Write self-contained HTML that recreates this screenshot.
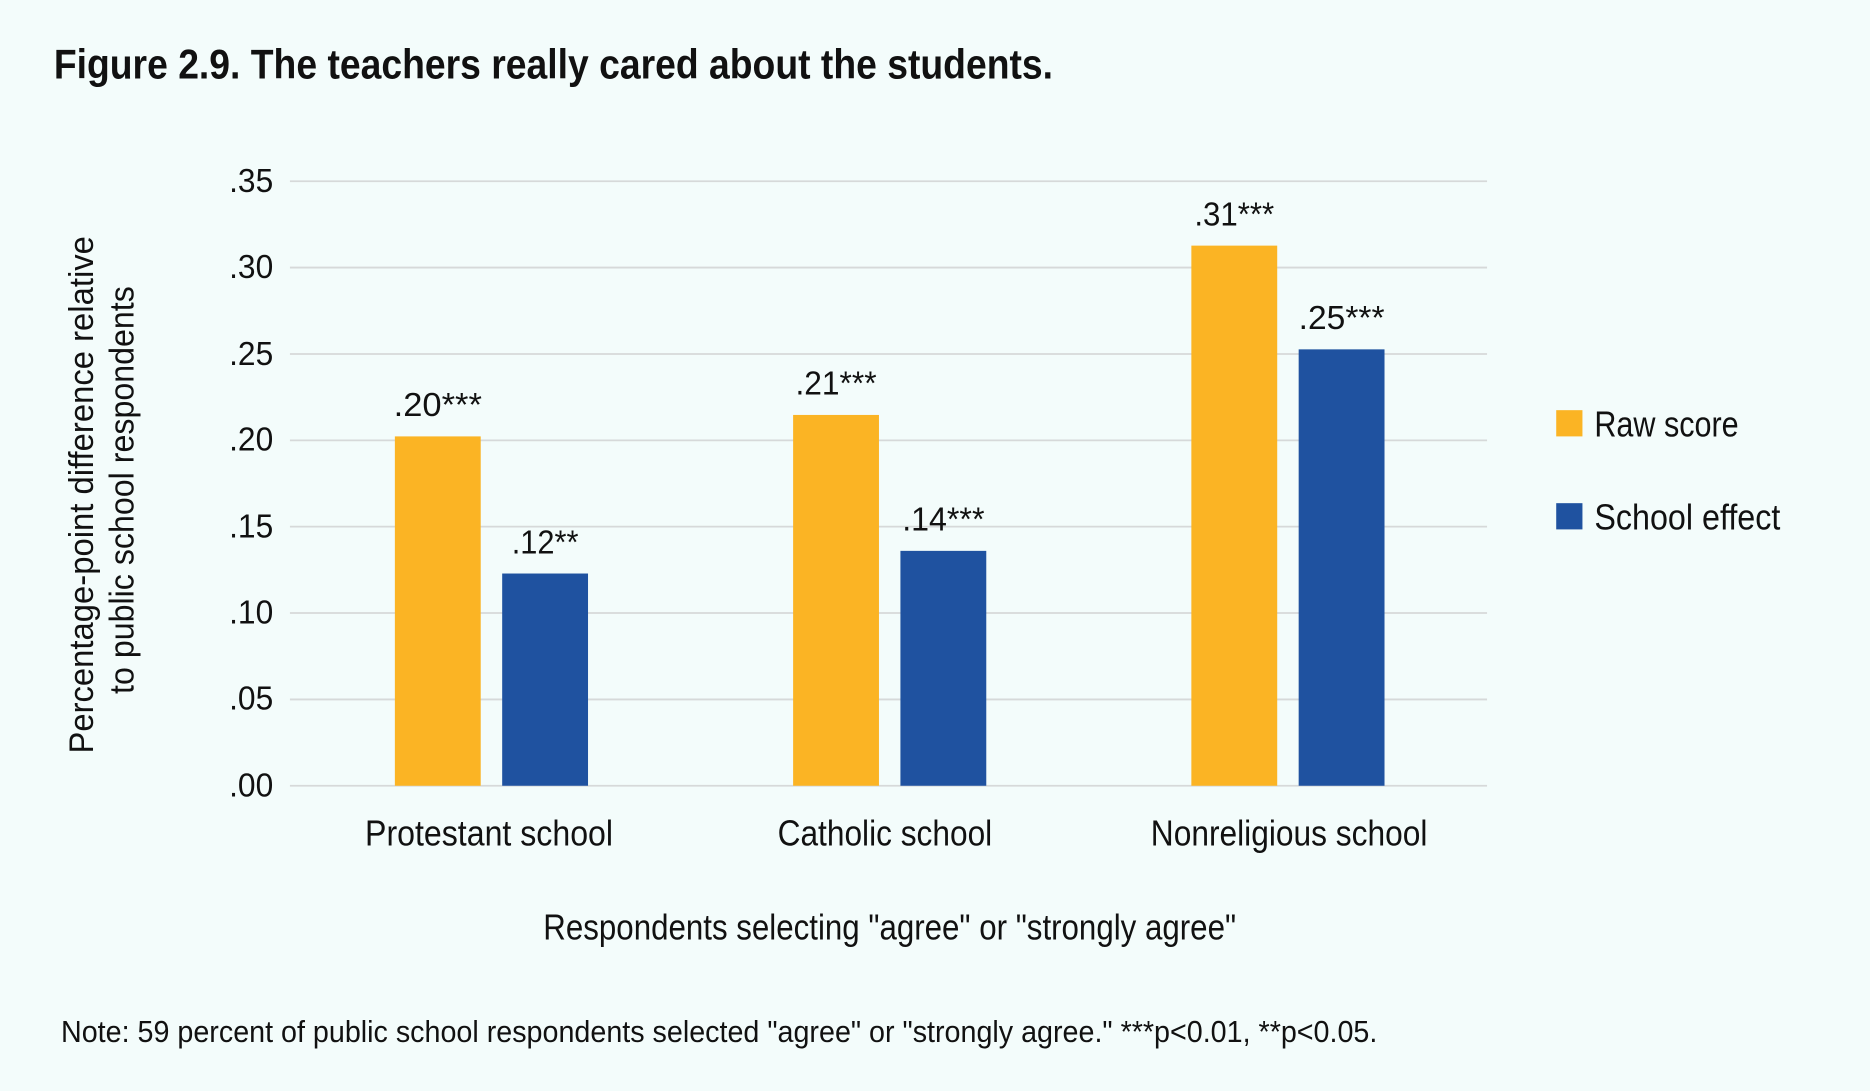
<!DOCTYPE html>
<html><head><meta charset="utf-8"><style>
html,body{margin:0;padding:0;background:#f3fcfb;}
svg{display:block;}
text{font-family:"Liberation Sans Narrow","Liberation Sans",sans-serif;fill:#111;}
</style></head><body>
<svg width="1870" height="1091" viewBox="0 0 1568 915" xmlns="http://www.w3.org/2000/svg">
<rect width="1568" height="915" fill="#f3fcfb"/>
<text x="45" y="66" font-size="35" font-weight="bold" textLength="838" lengthAdjust="spacingAndGlyphs">Figure 2.9. The teachers really cared about the students.</text>
<g stroke="#d6d9d9" stroke-width="1.5">
<line x1="243" x2="1247" y1="152" y2="152"/><line x1="243" x2="1247" y1="224.4" y2="224.4"/>
<line x1="243" x2="1247" y1="296.9" y2="296.9"/><line x1="243" x2="1247" y1="369.3" y2="369.3"/>
<line x1="243" x2="1247" y1="441.7" y2="441.7"/><line x1="243" x2="1247" y1="514.1" y2="514.1"/>
<line x1="243" x2="1247" y1="586.6" y2="586.6"/><line x1="243" x2="1247" y1="659" y2="659"/>
</g>
<g font-size="28" text-anchor="end">
<text x="229" y="161" textLength="37" lengthAdjust="spacingAndGlyphs">.35</text><text x="229" y="233" textLength="37" lengthAdjust="spacingAndGlyphs">.30</text><text x="229" y="306" textLength="37" lengthAdjust="spacingAndGlyphs">.25</text>
<text x="229" y="378" textLength="37" lengthAdjust="spacingAndGlyphs">.20</text><text x="229" y="451" textLength="37" lengthAdjust="spacingAndGlyphs">.15</text><text x="229" y="523" textLength="37" lengthAdjust="spacingAndGlyphs">.10</text>
<text x="229" y="595" textLength="37" lengthAdjust="spacingAndGlyphs">.05</text><text x="229" y="668" textLength="37" lengthAdjust="spacingAndGlyphs">.00</text>
</g>
<g fill="#fbb424">
<rect x="331" y="366" width="72" height="293"/><rect x="665" y="348" width="72" height="311"/><rect x="999" y="206" width="72" height="453"/>
</g>
<g fill="#1f52a0">
<rect x="421" y="481" width="72" height="178"/><rect x="755" y="462" width="72" height="197"/><rect x="1089" y="293" width="72" height="366"/>
</g>
<g font-size="28" text-anchor="middle">
<text x="367" y="349" textLength="74" lengthAdjust="spacingAndGlyphs">.20***</text><text x="457" y="464" textLength="56" lengthAdjust="spacingAndGlyphs">.12**</text>
<text x="701" y="331" textLength="68" lengthAdjust="spacingAndGlyphs">.21***</text><text x="791" y="445" textLength="69" lengthAdjust="spacingAndGlyphs">.14***</text>
<text x="1035" y="189" textLength="67" lengthAdjust="spacingAndGlyphs">.31***</text><text x="1125" y="276" textLength="72" lengthAdjust="spacingAndGlyphs">.25***</text>
</g>
<g font-size="30" text-anchor="middle">
<text x="410" y="709" textLength="208" lengthAdjust="spacingAndGlyphs">Protestant school</text><text x="742" y="709" textLength="180" lengthAdjust="spacingAndGlyphs">Catholic school</text><text x="1081" y="709" textLength="232" lengthAdjust="spacingAndGlyphs">Nonreligious school</text>
<text x="746" y="788" textLength="581" lengthAdjust="spacingAndGlyphs">Respondents selecting "agree" or "strongly agree"</text>
</g>
<rect x="1305" y="344" width="22" height="22" fill="#fbb424"/>
<rect x="1305" y="422" width="22" height="22" fill="#1f52a0"/>
<text x="1337" y="366" font-size="30" textLength="121" lengthAdjust="spacingAndGlyphs">Raw score</text>
<text x="1337" y="444" font-size="30" textLength="156" lengthAdjust="spacingAndGlyphs">School effect</text>
<g font-size="29" text-anchor="middle">
<text transform="translate(78,415) rotate(-90)" textLength="434" lengthAdjust="spacingAndGlyphs">Percentage-point difference relative</text>
<text transform="translate(112,411) rotate(-90)" textLength="342" lengthAdjust="spacingAndGlyphs">to public school respondents</text>
</g>
<text x="51" y="874" font-size="26" textLength="1104" lengthAdjust="spacingAndGlyphs">Note: 59 percent of public school respondents selected "agree" or "strongly agree."  ***p&lt;0.01, **p&lt;0.05.</text>
</svg>
</body></html>
